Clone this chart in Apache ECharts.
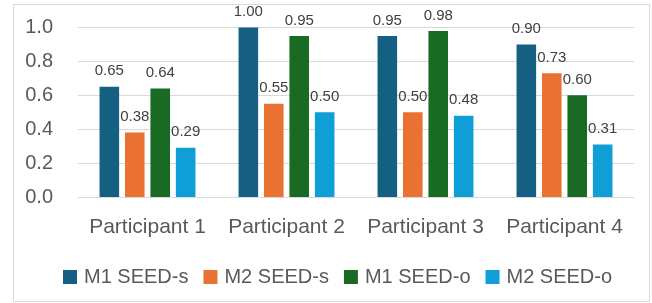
<!DOCTYPE html>
<html>
<head>
<meta charset="utf-8">
<script src="https://cdn.jsdelivr.net/npm/echarts@6/dist/echarts.min.js"></script>
<style>
  html, body { margin: 0; padding: 0; background: #fff; }
  #chart { width: 652px; height: 303px; }
</style>
</head>
<body>
<div id="chart"></div>
<script>
// chart data
var participants = ["Participant 1", "Participant 2", "Participant 3", "Participant 4"];
var seriesNames = ["M1 SEED-s", "M2 SEED-s", "M1 SEED-o", "M2 SEED-o"];
var m1SeedS = [0.65, 1.00, 0.95, 0.90];
var m2SeedS = [0.38, 0.55, 0.50, 0.73];
var m1SeedO = [0.64, 0.95, 0.98, 0.60];
var m2SeedO = [0.29, 0.50, 0.48, 0.31];
var yTicks = [0, 0.2, 0.4, 0.6, 0.8, 1.0];

var colors = ["#156082", "#E97132", "#196B24", "#0F9ED5"];
var fontFamily = "'Liberation Sans', Arial, sans-serif";

var myChart = echarts.init(document.getElementById("chart"));

function makeSeries(name, values) {
  return {
    name: name,
    type: "bar",
    data: values,
    barGap: "30%",
    barCategoryGap: "31%",
    label: {
      show: true,
      position: "top",
      distance: 8,
      color: "#404040",
      fontSize: 15,
      fontFamily: fontFamily,
      formatter: function (p) {
        return p.value.toFixed(2);
      }
    }
  };
}

var option = {
  color: colors,
  animation: false,
  graphic: [
    {
      type: "rect",
      shape: { x: 13.5, y: 4.5, width: 636, height: 297 },
      style: { fill: null, stroke: "#d9d9d9", lineWidth: 1 },
      silent: true
    }
  ],
  grid: {
    left: 78,
    right: 18,
    top: 27.5,
    bottom: 106
  },
  legend: {
    data: seriesNames,
    left: 58,
    top: 262,
    itemWidth: 14,
    itemHeight: 14,
    itemGap: 15,
    icon: "rect",
    textStyle: {
      color: "#595959",
      fontSize: 20,
      fontFamily: fontFamily,
      padding: [0, 0, 0, 2]
    }
  },
  xAxis: {
    type: "category",
    data: participants,
    axisTick: { show: false },
    axisLine: { lineStyle: { color: "#d9d9d9" } },
    axisLabel: {
      interval: 0,
      hideOverlap: false,
      color: "#595959",
      fontSize: 21,
      fontFamily: fontFamily,
      margin: 20
    }
  },
  yAxis: {
    type: "value",
    min: yTicks[0],
    max: yTicks[yTicks.length - 1],
    interval: 0.2,
    axisLine: { show: false },
    axisTick: { show: false },
    splitLine: { lineStyle: { color: "#d9d9d9" } },
    axisLabel: {
      color: "#595959",
      fontSize: 20,
      fontFamily: fontFamily,
      margin: 25,
      formatter: function (v) {
        return v.toFixed(1);
      }
    }
  },
  series: [
    makeSeries(seriesNames[0], m1SeedS),
    makeSeries(seriesNames[1], m2SeedS),
    makeSeries(seriesNames[2], m1SeedO),
    makeSeries(seriesNames[3], m2SeedO)
  ]
};

myChart.setOption(option);
</script>
</body>
</html>
